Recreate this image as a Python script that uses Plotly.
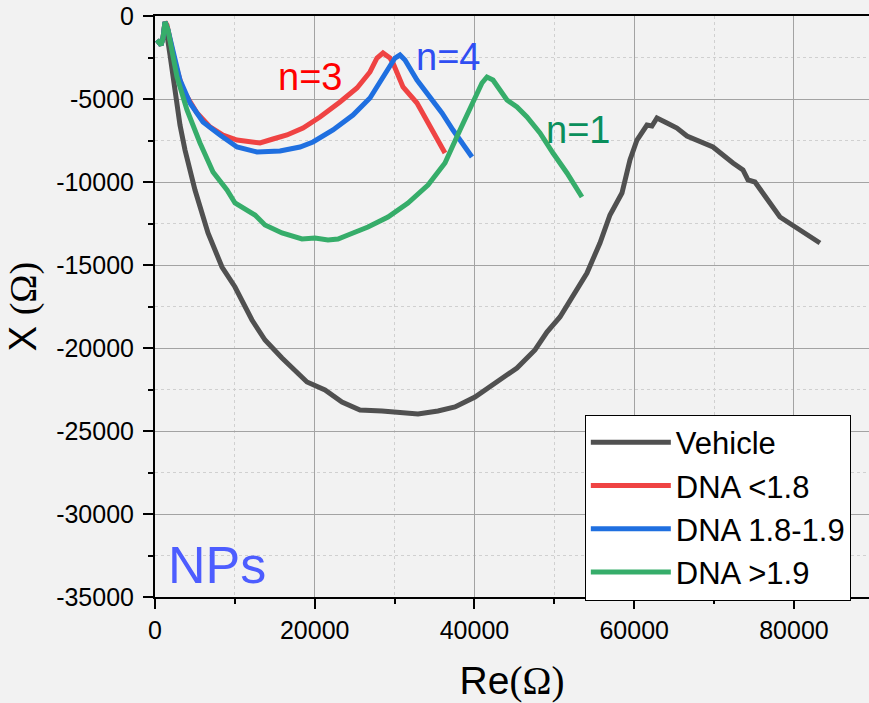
import plotly.graph_objects as go

# ---- data (Re in Ohm, X in Ohm) ----
vehicle_re = [250, 751, 1002, 1252, 1878, 2504, 3130, 3756, 5008, 6636, 8388, 10016, 12144, 13772,
              15900, 19030, 21284, 23412, 25666, 28420, 30924, 32928, 35432, 37560, 40064, 42818,
              45322, 47576, 49078, 50706, 52334, 54086, 55714, 56966, 58468, 59470, 60346, 61598,
              62224, 62850, 64102, 65354, 66606, 69110, 69862, 72366, 73618, 74244, 75120, 78250,
              79878, 81630, 83258]
vehicle_x = [-1446, -1747, -1325, -361, -2349, -4458, -6566, -8072, -10482, -13072, -15120, -16325,
             -18313, -19518, -20602, -22048, -22530, -23253, -23735, -23795, -23915, -23976, -23795,
             -23554, -22952, -22048, -21204, -20120, -19036, -18132, -16807, -15482, -13674, -11988,
             -10663, -8675, -7470, -6566, -6626, -6144, -6446, -6747, -7229, -7711, -7891, -8855,
             -9277, -9879, -10000, -12108, -12590, -13193, -13674]

red_re = [250, 751, 1002, 1252, 1502, 2504, 3506, 5259, 6886, 8514, 10266, 11518, 13146, 14774,
          16526, 18530, 20658, 23162, 25290, 26918, 27794, 28546, 29422, 29798, 31050, 32802,
          34054, 35306, 36308]
red_x = [-1446, -1747, -1325, -361, -542, -2831, -4458, -5843, -6687, -7169, -7470, -7530, -7650,
         -7410, -7169, -6747, -6084, -5181, -4337, -3373, -2530, -2229, -2530, -2831, -4277, -5241,
         -6265, -7289, -8253]

blue_re = [250, 751, 1002, 1252, 1628, 3130, 4382, 6010, 8138, 10266, 12770, 15650, 18154, 19782,
           22286, 24790, 26918, 29046, 30048, 30674, 31300, 32802, 34430, 35932, 37310, 38562, 39688]
blue_x = [-1446, -1747, -1325, -361, -843, -3855, -5241, -6385, -7169, -7891, -8193, -8132, -7891,
          -7590, -6867, -5964, -4940, -3373, -2530, -2349, -2651, -3855, -4879, -5843, -6867, -7771,
          -8494]

green_re = [250, 751, 1002, 1252, 1628, 2754, 4006, 5634, 7262, 9014, 10016, 12520, 13772, 15900,
            18404, 20032, 21660, 22912, 24164, 26668, 29172, 31676, 34180, 36308, 38186, 39814,
            40940, 41566, 42318, 44070, 45322, 46574, 48202, 49830, 51582, 53460]
green_x = [-1446, -1747, -1325, -361, -843, -3675, -5663, -7650, -9397, -10482, -11265, -11988,
           -12590, -13072, -13434, -13373, -13494, -13434, -13193, -12711, -12108, -11265, -10181,
           -8855, -6867, -5241, -4036, -3675, -3855, -5060, -5482, -6084, -7048, -8253, -9458, -10904]

series_names = ["Vehicle", "DNA <1.8", "DNA 1.8-1.9", "DNA >1.9"]
series_colors = ["#505050", "#ef4343", "#1f6fe0", "#36ad6a"]

x_tickvals = [0, 20000, 40000, 60000, 80000]
x_ticktext = ["0", "20000", "40000", "60000", "80000"]
y_tickvals = [0, -5000, -10000, -15000, -20000, -25000, -30000, -35000]
y_ticktext = ["0", "-5000", "-10000", "-15000", "-20000", "-25000", "-30000", "-35000"]

ann_text = ["n=3", "n=4", "n=1", "NPs"]
ann_re = [19400, 36700, 53000, 7700]
ann_x = [-3650, -2450, -6850, -33100]
ann_colors = ["#ff0000", "#2f4ef2", "#0a8f5c", "#4d5dff"]
ann_sizes = [38, 38, 38, 52]

FONT = "Liberation Sans, Arial, sans-serif"

fig = go.Figure()
for re_, im_, name, col in zip([vehicle_re, red_re, blue_re, green_re],
                               [vehicle_x, red_x, blue_x, green_x],
                               series_names, series_colors):
    fig.add_trace(go.Scatter(x=re_, y=im_, mode="lines", name=name,
                             line=dict(color=col, width=5)))

for t, xr, yr, c, s in zip(ann_text, ann_re, ann_x, ann_colors, ann_sizes):
    fig.add_annotation(x=xr, y=yr, xref="x", yref="y", text=t, showarrow=False,
                       font=dict(family=FONT, size=s, color=c))

fig.update_layout(
    width=869, height=703,
    margin=dict(l=155, r=0, t=16, b=106, pad=0),
    paper_bgcolor="#f2f2f2", plot_bgcolor="#f2f2f2",
    font=dict(family=FONT, color="black"),
    showlegend=True,
    legend=dict(x=0.602, y=0.314, xanchor="left", yanchor="top",
                bgcolor="white", bordercolor="black", borderwidth=1,
                font=dict(family=FONT, size=31, color="black"),
                itemwidth=80, tracegroupgap=0),
    xaxis=dict(
        range=[0, 89400], tickvals=x_tickvals, ticktext=x_ticktext,
        tickfont=dict(family=FONT, size=25, color="black"),
        ticks="outside", ticklen=10, tickwidth=2, tickcolor="black",
        showline=True, linewidth=2, linecolor="black", mirror=True,
        showgrid=True, gridcolor="#a3a3a3", gridwidth=1, zeroline=False,
        minor=dict(dtick=10000, tick0=0, ticks="outside", ticklen=5, tickwidth=2,
                   tickcolor="black", showgrid=True, gridcolor="#d0d0d0",
                   griddash="dot", gridwidth=1),
        title=dict(text="Re<span style='font-family:Liberation Serif'>(Ω)</span>",
                   font=dict(family=FONT, size=39, color="black"), standoff=26),
    ),
    yaxis=dict(
        range=[-35000, 0], tickvals=y_tickvals, ticktext=y_ticktext,
        tickfont=dict(family=FONT, size=25, color="black"),
        ticks="outside", ticklen=10, tickwidth=2, tickcolor="black",
        showline=True, linewidth=2, linecolor="black", mirror=False,
        showgrid=True, gridcolor="#a3a3a3", gridwidth=1, zeroline=False,
        minor=dict(dtick=2500, tick0=0, ticks="outside", ticklen=5, tickwidth=2,
                   tickcolor="black", showgrid=True, gridcolor="#d0d0d0",
                   griddash="dot", gridwidth=1),
        ticklabelstandoff=4,
        title=dict(text="X <span style='font-family:Liberation Serif'>(Ω)</span>",
                   font=dict(family=FONT, size=38, color="black"), standoff=8),
    ),
)

fig.write_html("out.html")
